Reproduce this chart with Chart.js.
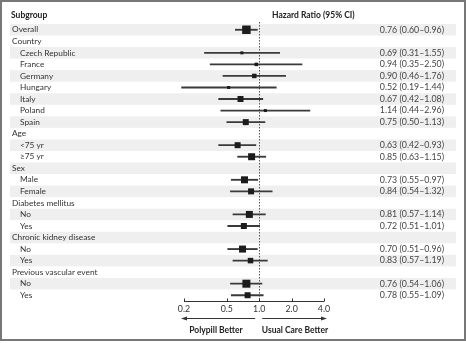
<!DOCTYPE html>
<html>
<head>
<meta charset="utf-8">
<script src="https://cdn.jsdelivr.net/npm/chart.js@4.4.1/dist/chart.umd.min.js"></script>
<style>
  html, body { margin: 0; padding: 0; background: #fff; }
  #wrap { width: 466px; height: 343px; }
</style>
</head>
<body>
<div id="wrap"><canvas id="forest-chart" width="466" height="343"></canvas></div>
<script>
// subgroup rows, top to bottom
const rows = ['Overall', 'Country', 'Czech Republic', 'France', 'Germany', 'Hungary', 'Italy', 'Poland', 'Spain',
  'Age', '<75 yr', '\u226575 yr', 'Sex', 'Male', 'Female', 'Diabetes mellitus', 'No', 'Yes',
  'Chronic kidney disease', 'No', 'Yes', 'Previous vascular event', 'No', 'Yes'];
const level = [0, 0, 1, 1, 1, 1, 1, 1, 1, 0, 1, 1, 0, 1, 1, 0, 1, 1, 0, 1, 1, 0, 1, 1];

// hazard ratios with 95% CI
const hr =    [0.76, null, 0.69, 0.94, 0.90, 0.52, 0.67, 1.14, 0.75, null, 0.63, 0.85, null, 0.73, 0.84, null, 0.81, 0.72, null, 0.70, 0.83, null, 0.76, 0.78];
const lower = [0.60, null, 0.31, 0.35, 0.46, 0.19, 0.42, 0.44, 0.50, null, 0.42, 0.63, null, 0.55, 0.54, null, 0.57, 0.51, null, 0.51, 0.57, null, 0.54, 0.55];
const upper = [0.96, null, 1.55, 2.50, 1.76, 1.44, 1.08, 2.96, 1.13, null, 0.93, 1.15, null, 0.97, 1.32, null, 1.14, 1.01, null, 0.96, 1.19, null, 1.06, 1.09];

// box side in px (weight of each subgroup)
const boxSize = [8.5, 0, 3, 3.5, 4.5, 3, 6, 3, 6, 0, 6, 7, 0, 7, 6, 0, 7, 6, 0, 7, 5.5, 0, 8, 6];

const xTicks = [0.2, 0.5, 1.0, 2.0, 4.0];

const FONT = 'Lato, "Open Sans", sans-serif';
const fmt = v => v.toFixed(2);

const forestText = {
  id: 'forestText',
  beforeDraw(chart) {
    const ctx = chart.ctx;
    const y = chart.scales.y;
    const band = y.getPixelForValue(1) - y.getPixelForValue(0);
    ctx.save();
    ctx.fillStyle = '#efefef';
    rows.forEach((r, i) => {
      if (i % 2 === 0) {
        const cy = y.getPixelForValue(i);
        ctx.fillRect(10, cy - band / 2, 446, band);
      }
    });
    ctx.restore();
  },
  beforeDatasetsDraw(chart) {
    const ctx = chart.ctx;
    const x = chart.scales.x;
    const area = chart.chartArea;
    const x1 = Math.round(x.getPixelForValue(1)) + 0.5;
    ctx.save();
    ctx.strokeStyle = '#555';
    ctx.lineWidth = 1;
    ctx.setLineDash([1.5, 1.5]);
    ctx.beginPath();
    ctx.moveTo(x1, 22);
    ctx.lineTo(x1, area.bottom);
    ctx.stroke();
    ctx.restore();
  },
  afterDraw(chart) {
    const ctx = chart.ctx;
    const x = chart.scales.x;
    const y = chart.scales.y;
    const area = chart.chartArea;
    ctx.save();

    // headers
    ctx.fillStyle = '#222';
    ctx.font = 'bold 8.5px ' + FONT;
    ctx.textBaseline = 'middle';
    ctx.textAlign = 'left';
    ctx.fillText('Subgroup', 11, 15);
    ctx.fillText('Hazard Ratio (95% CI)', 272, 15);

    // row labels and CI text
    rows.forEach((r, i) => {
      const cy = y.getPixelForValue(i);
      ctx.fillStyle = '#333';
      ctx.textAlign = 'left';
      ctx.font = '8.3px ' + FONT;
      ctx.fillText(r, level[i] ? 20 : 12, cy);
      if (hr[i] != null) {
        ctx.fillStyle = '#444';
        ctx.textAlign = 'right';
        ctx.font = '8.8px ' + FONT;
        ctx.fillText(fmt(hr[i]) + ' (' + fmt(lower[i]) + '\u2013' + fmt(upper[i]) + ')', 444, cy);
      }
    });

    // x axis
    const ax = area.bottom + 0.5;
    const xl = x.getPixelForValue(xTicks[0]);
    const xr = x.getPixelForValue(xTicks[xTicks.length - 1]);
    ctx.strokeStyle = '#333';
    ctx.lineWidth = 1;
    ctx.beginPath();
    ctx.moveTo(xl, ax);
    ctx.lineTo(xr, ax);
    xTicks.forEach(t => {
      const px = Math.round(x.getPixelForValue(t)) + 0.5;
      ctx.moveTo(px, ax);
      ctx.lineTo(px, ax - 3);
    });
    ctx.stroke();
    ctx.fillStyle = '#333';
    ctx.textAlign = 'center';
    ctx.font = '8.8px ' + FONT;
    xTicks.forEach(t => {
      ctx.fillText(t.toFixed(1), x.getPixelForValue(t), ax + 8);
    });

    // arrows
    const x1 = x.getPixelForValue(1);
    const ay = ax + 17;
    ctx.beginPath();
    ctx.moveTo(x1 - 4, ay);
    ctx.lineTo(xl - 1, ay);
    ctx.moveTo(x1 + 3, ay);
    ctx.lineTo(xr + 1, ay);
    ctx.stroke();
    ctx.beginPath();
    ctx.moveTo(xl - 3, ay);
    ctx.lineTo(xl + 3, ay - 2);
    ctx.lineTo(xl + 3, ay + 2);
    ctx.closePath();
    ctx.moveTo(xr + 3, ay);
    ctx.lineTo(xr - 3, ay - 2);
    ctx.lineTo(xr - 3, ay + 2);
    ctx.closePath();
    ctx.fill();

    ctx.font = 'bold 8.5px ' + FONT;
    ctx.fillStyle = '#222';
    ctx.fillText('Polypill Better', 216, ay + 12);
    ctx.fillText('Usual Care Better', 295, ay + 12);

    // frame
    ctx.strokeStyle = '#777';
    ctx.lineWidth = 2;
    ctx.strokeRect(1, 1, 464, 339);
    ctx.restore();
  }
};

new Chart(document.getElementById('forest-chart'), {
  type: 'bar',
  data: {
    labels: rows,
    datasets: [
      {
        type: 'scatter',
        data: rows.map((r, i) => ({ x: hr[i], y: r })),
        pointStyle: 'rect',
        pointRadius: boxSize.map(s => s / Math.SQRT2),
        pointHoverRadius: boxSize.map(s => s / Math.SQRT2),
        backgroundColor: '#1c1c1c',
        borderWidth: 0,
        clip: false,
        order: 0,
      },
      {
        data: rows.map((r, i) => hr[i] == null ? null : [lower[i], upper[i]]),
        backgroundColor: '#3a3a3a',
        barThickness: 1.2,
        clip: false,
        order: 1,
      },
    ],
  },
  options: {
    responsive: false,
    animation: false,
    indexAxis: 'y',
    layout: { padding: { left: 184, right: 142, top: 24, bottom: 42 } },
    plugins: {
      legend: { display: false },
      tooltip: { enabled: false },
    },
    scales: {
      x: { type: 'logarithmic', min: 0.2, max: 4, display: false },
      y: { type: 'category', display: false, offset: true },
    },
  },
  plugins: [forestText],
});
</script>
</body>
</html>
